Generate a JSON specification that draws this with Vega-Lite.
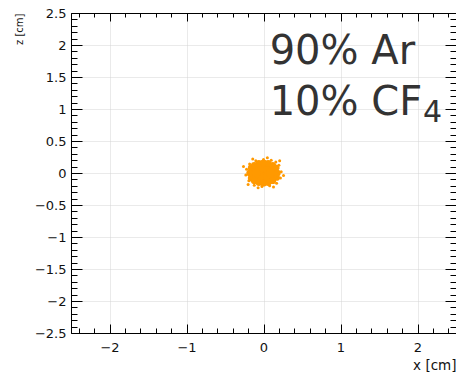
{
  "$schema": "https://vega.github.io/schema/vega-lite/v6.json",
  "width": 385,
  "height": 320,
  "autosize": "none",
  "padding": {"left": 71, "top": 13, "right": 0, "bottom": 39},
  "background": "white",
  "view": {"stroke": "black", "strokeWidth": 1},
  "config": {
    "axis": {"labelFont": "DejaVu Sans", "titleFont": "DejaVu Sans", "labelColor": "#111", "titleColor": "#111", "domainColor": "black", "tickColor": "black", "labelFlush": false, "labelOverlap": false, "titleFontWeight": "normal"}
  },
  "datasets": {
    "core": [
      {"x": 0, "z": 0}, {"x": 0, "z": 0.08}, {"x": 0, "z": -0.08}, {"x": 0.08, "z": 0.05}, {"x": -0.08, "z": 0.05},
      {"x": 0.08, "z": -0.05}, {"x": -0.08, "z": -0.05}, {"x": 0.12, "z": 0}, {"x": -0.12, "z": 0}
    ],
    "mid": [
      {"x": 0.16, "z": 0.08}, {"x": 0.17, "z": -0.07}, {"x": -0.16, "z": 0.08}, {"x": -0.16, "z": -0.08},
      {"x": 0.06, "z": 0.15}, {"x": -0.06, "z": 0.15}, {"x": 0.06, "z": -0.15}, {"x": -0.06, "z": -0.15},
      {"x": 0.0, "z": 0.16}, {"x": 0.0, "z": -0.16}, {"x": 0.18, "z": 0.0}, {"x": -0.18, "z": 0.0},
      {"x": 0.12, "z": 0.12}, {"x": -0.12, "z": 0.12}, {"x": 0.12, "z": -0.12}, {"x": -0.12, "z": -0.12}
    ],
    "halo": [
      {"x": 0.2, "z": 0.12}, {"x": 0.23, "z": 0.02}, {"x": 0.22, "z": -0.08}, {"x": 0.17, "z": -0.16},
      {"x": 0.08, "z": -0.2}, {"x": -0.02, "z": -0.21}, {"x": -0.12, "z": -0.19}, {"x": -0.19, "z": -0.12},
      {"x": -0.23, "z": -0.03}, {"x": -0.22, "z": 0.06}, {"x": -0.18, "z": 0.14}, {"x": -0.1, "z": 0.19},
      {"x": 0.0, "z": 0.21}, {"x": 0.1, "z": 0.2}, {"x": 0.16, "z": 0.17}, {"x": -0.14, "z": 0.22},
      {"x": 0.21, "z": 0.19}, {"x": 0.26, "z": -0.04}, {"x": -0.26, "z": 0.1}, {"x": 0.13, "z": -0.22},
      {"x": -0.07, "z": -0.23}, {"x": 0.19, "z": 0.08}, {"x": -0.2, "z": -0.18}, {"x": 0.05, "z": 0.24}
    ],
    "big": [
      {"x": 0.08, "z": 1.7, "label": "90% Ar"},
      {"x": 0.08, "z": 0.905, "label": "10% CF"}
    ],
    "sub": [
      {"x": 2.07, "z": 0.8, "label": "4"}
    ]
  },
  "layer": [
    {
      "data": {"name": "core"},
      "mark": {"type": "circle", "size": 160, "color": "#FF9900", "opacity": 1},
      "encoding": {
        "x": {"field": "x", "type": "quantitative", "scale": {"domain": [-2.5, 2.5], "nice": false, "zero": false},
          "axis": {"orient": "bottom", "values": [-2, -1, 0, 1, 2], "format": "~g", "tickSize": -9, "labelPadding": 17, "labelFontSize": 13, "title": "x [cm]", "titleAnchor": "end", "titleFontSize": 13.5, "titlePadding": 4,
            "grid": true, "gridColor": "#d4d4d4", "gridDash": [1, 1], "gridWidth": 1}},
        "y": {"field": "z", "type": "quantitative", "scale": {"domain": [-2.5, 2.5], "nice": false, "zero": false},
          "axis": {"orient": "left", "values": [-2.5, -2, -1.5, -1, -0.5, 0, 0.5, 1, 1.5, 2, 2.5], "format": "~g", "tickSize": -11, "labelPadding": 16, "labelFontSize": 13, "title": "z [cm]", "titleAnchor": "end", "titleFontSize": 10, "titlePadding": 10,
            "grid": true, "gridColor": "#d4d4d4", "gridDash": [1, 1], "gridWidth": 1}}
      }
    },
    {
      "data": {"name": "mid"},
      "mark": {"type": "circle", "size": 45, "color": "#FF9900", "opacity": 1},
      "encoding": {
        "x": {"field": "x", "type": "quantitative",
          "axis": {"orient": "bottom", "values": [-2.4, -2.2, -1.8, -1.6, -1.4, -1.2, -0.8, -0.6, -0.4, -0.2, 0.2, 0.4, 0.6, 0.8, 1.2, 1.4, 1.6, 1.8, 2.2, 2.4], "tickSize": -5, "labels": false, "domain": false, "grid": false, "title": null}},
        "y": {"field": "z", "type": "quantitative",
          "axis": {"orient": "left", "values": [-2.4, -2.3, -2.2, -2.1, -1.9, -1.8, -1.7, -1.6, -1.4, -1.3, -1.2, -1.1, -0.9, -0.8, -0.7, -0.6, -0.4, -0.3, -0.2, -0.1, 0.1, 0.2, 0.3, 0.4, 0.6, 0.7, 0.8, 0.9, 1.1, 1.2, 1.3, 1.4, 1.6, 1.7, 1.8, 1.9, 2.1, 2.2, 2.3, 2.4], "tickSize": -6, "labels": false, "domain": false, "grid": false, "title": null}}
      }
    },
    {
      "data": {"name": "halo"},
      "mark": {"type": "circle", "size": 9, "color": "#FF9900", "opacity": 1},
      "encoding": {
        "x": {"field": "x", "type": "quantitative",
          "axis": {"orient": "top", "values": [-2, -1, 0, 1, 2], "tickSize": -8, "labels": false, "domain": true, "grid": false, "title": null}},
        "y": {"field": "z", "type": "quantitative",
          "axis": {"orient": "right", "values": [-2.5, -2, -1.5, -1, -0.5, 0, 0.5, 1, 1.5, 2, 2.5], "tickSize": -11, "labels": false, "domain": true, "grid": false, "title": null}}
      }
    },
    {
      "data": {"name": "big"},
      "mark": {"type": "text", "font": "DejaVu Sans", "fontSize": 40, "color": "#333333", "align": "left", "baseline": "alphabetic"},
      "encoding": {
        "x": {"field": "x", "type": "quantitative",
          "axis": {"orient": "top", "values": [-2.4, -2.2, -1.8, -1.6, -1.4, -1.2, -0.8, -0.6, -0.4, -0.2, 0.2, 0.4, 0.6, 0.8, 1.2, 1.4, 1.6, 1.8, 2.2, 2.4], "tickSize": -4, "labels": false, "domain": false, "grid": false, "title": null}},
        "y": {"field": "z", "type": "quantitative",
          "axis": {"orient": "right", "values": [-2.4, -2.3, -2.2, -2.1, -1.9, -1.8, -1.7, -1.6, -1.4, -1.3, -1.2, -1.1, -0.9, -0.8, -0.7, -0.6, -0.4, -0.3, -0.2, -0.1, 0.1, 0.2, 0.3, 0.4, 0.6, 0.7, 0.8, 0.9, 1.1, 1.2, 1.3, 1.4, 1.6, 1.7, 1.8, 1.9, 2.1, 2.2, 2.3, 2.4], "tickSize": -6, "labels": false, "domain": false, "grid": false, "title": null}},
        "text": {"field": "label"}
      }
    },
    {
      "data": {"name": "sub"},
      "mark": {"type": "text", "font": "DejaVu Sans", "fontSize": 30, "color": "#333333", "align": "left", "baseline": "alphabetic"},
      "encoding": {
        "x": {"field": "x", "type": "quantitative", "axis": null},
        "y": {"field": "z", "type": "quantitative", "axis": null},
        "text": {"field": "label"}
      }
    }
  ],
  "resolve": {"axis": {"x": "independent", "y": "independent"}}
}
